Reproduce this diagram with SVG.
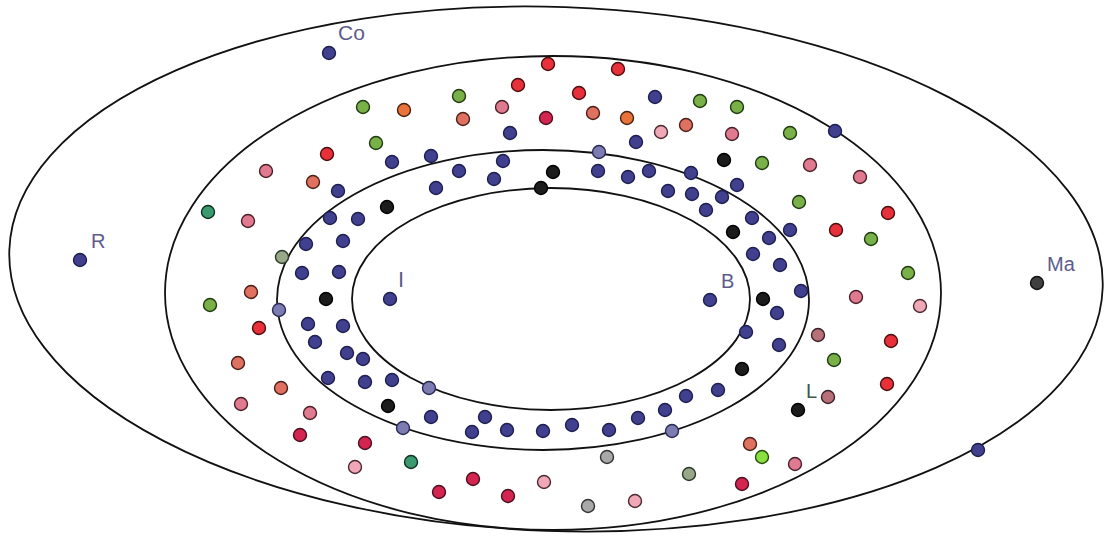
<svg xmlns="http://www.w3.org/2000/svg" width="1108" height="537" viewBox="0 0 1108 537">
<style>
.e{fill:none;stroke:#111;stroke-width:1.8}
circle{stroke-width:1.4;r:6.5px}
.b{fill:#40408f;stroke:#1e1e50}
.s{fill:#7c7cb2;stroke:#2a2a55}
.k{fill:#1c1c1c;stroke:#000}
.r{fill:#e8303a;stroke:#4a1010}
.c{fill:#d42450;stroke:#4a1020}
.p{fill:#e07a90;stroke:#4a2028}
.lp{fill:#f0a8b8;stroke:#4a2a30}
.sa{fill:#e07060;stroke:#4a2018}
.o{fill:#e8743c;stroke:#4a2010}
.g{fill:#7ab048;stroke:#1e3a10}
.t{fill:#3a9a70;stroke:#103020}
.sg{fill:#98a888;stroke:#2a3a2a}
.gy{fill:#a8a8a8;stroke:#333}
.lm{fill:#88e040;stroke:#2a4a10}
.m{fill:#b87078;stroke:#3a2028}
.dk{fill:#404040;stroke:#111}
text{font-family:"Liberation Sans",Arial,sans-serif;font-size:20px;fill:#5c5c8c}
</style>
<rect width="1108" height="537" fill="#fff"/>
<g id="rings">
<ellipse class="e" cx="556" cy="269" rx="547" ry="262" transform="rotate(2 556 269)"/>
<ellipse class="e" cx="553" cy="293" rx="388" ry="237"/>
<ellipse class="e" cx="543" cy="300" rx="266" ry="150"/>
<ellipse class="e" cx="551" cy="299" rx="199" ry="111"/>
</g>
<g id="labels">
<text x="338" y="40" style="font-size:21px">Co</text>
<text x="91" y="248">R</text>
<text x="398" y="287" style="font-size:22px">I</text>
<text x="721" y="288">B</text>
<text x="1047" y="271">Ma</text>
<text x="806" y="398" style="fill:#3a5a4a">L</text>
</g>
<g id="dots">
<circle class="b" cx="329" cy="53" r="6"/>
<circle class="g" cx="363" cy="107" r="6"/>
<circle class="g" cx="376" cy="143" r="6"/>
<circle class="r" cx="327" cy="154" r="6"/>
<circle class="p" cx="266" cy="171" r="6"/>
<circle class="sa" cx="313" cy="182" r="6"/>
<circle class="b" cx="338" cy="191" r="6"/>
<circle class="t" cx="208" cy="212" r="6"/>
<circle class="p" cx="248" cy="221" r="6"/>
<circle class="b" cx="330" cy="218" r="6"/>
<circle class="b" cx="358" cy="219" r="6"/>
<circle class="b" cx="306" cy="244" r="6"/>
<circle class="b" cx="343" cy="241" r="6"/>
<circle class="sg" cx="282" cy="257" r="6"/>
<circle class="b" cx="80" cy="260" r="6"/>
<circle class="r" cx="548" cy="64" r="6"/>
<circle class="r" cx="618" cy="69" r="6"/>
<circle class="r" cx="518" cy="85" r="6"/>
<circle class="g" cx="459" cy="96" r="6"/>
<circle class="r" cx="579" cy="93" r="6"/>
<circle class="b" cx="655" cy="97" r="6"/>
<circle class="g" cx="700" cy="101" r="6"/>
<circle class="g" cx="737" cy="107" r="6"/>
<circle class="o" cx="404" cy="110" r="6"/>
<circle class="p" cx="502" cy="107" r="6"/>
<circle class="sa" cx="463" cy="119" r="6"/>
<circle class="c" cx="546" cy="118" r="6"/>
<circle class="sa" cx="593" cy="113" r="6"/>
<circle class="o" cx="627" cy="118" r="6"/>
<circle class="sa" cx="686" cy="125" r="6"/>
<circle class="lp" cx="661" cy="132" r="6"/>
<circle class="p" cx="732" cy="134" r="6"/>
<circle class="b" cx="510" cy="133" r="6"/>
<circle class="b" cx="636" cy="142" r="6"/>
<circle class="b" cx="392" cy="162" r="6"/>
<circle class="b" cx="431" cy="156" r="6"/>
<circle class="b" cx="503" cy="161" r="6"/>
<circle class="s" cx="599" cy="152" r="6"/>
<circle class="k" cx="724" cy="160" r="6"/>
<circle class="b" cx="459" cy="171" r="6"/>
<circle class="k" cx="553" cy="172" r="6"/>
<circle class="b" cx="598" cy="171" r="6"/>
<circle class="b" cx="628" cy="177" r="6"/>
<circle class="b" cx="649" cy="171" r="6"/>
<circle class="b" cx="691" cy="173" r="6"/>
<circle class="b" cx="737" cy="185" r="6"/>
<circle class="b" cx="436" cy="188" r="6"/>
<circle class="b" cx="494" cy="179" r="6"/>
<circle class="k" cx="541" cy="188" r="6"/>
<circle class="b" cx="668" cy="191" r="6"/>
<circle class="b" cx="692" cy="194" r="6"/>
<circle class="b" cx="722" cy="197" r="6"/>
<circle class="b" cx="706" cy="210" r="6"/>
<circle class="k" cx="387" cy="207" r="6"/>
<circle class="k" cx="733" cy="232" r="6"/>
<circle class="g" cx="790" cy="133" r="6"/>
<circle class="b" cx="835" cy="131" r="6"/>
<circle class="g" cx="762" cy="163" r="6"/>
<circle class="p" cx="810" cy="165" r="6"/>
<circle class="p" cx="860" cy="177" r="6"/>
<circle class="g" cx="799" cy="202" r="6"/>
<circle class="b" cx="752" cy="218" r="6"/>
<circle class="b" cx="790" cy="230" r="6"/>
<circle class="b" cx="769" cy="238" r="6"/>
<circle class="r" cx="836" cy="230" r="6"/>
<circle class="r" cx="888" cy="213" r="6"/>
<circle class="g" cx="871" cy="239" r="6"/>
<circle class="b" cx="753" cy="254" r="6"/>
<circle class="b" cx="780" cy="265" r="6"/>
<circle class="g" cx="908" cy="273" r="6"/>
<circle class="dk" cx="1037" cy="283" r="6"/>
<circle class="b" cx="801" cy="291" r="6"/>
<circle class="k" cx="763" cy="299" r="6"/>
<circle class="b" cx="777" cy="313" r="6"/>
<circle class="p" cx="856" cy="297" r="6"/>
<circle class="lp" cx="920" cy="306" r="6"/>
<circle class="b" cx="746" cy="332" r="6"/>
<circle class="b" cx="779" cy="345" r="6"/>
<circle class="m" cx="818" cy="335" r="6"/>
<circle class="r" cx="891" cy="341" r="6"/>
<circle class="g" cx="834" cy="360" r="6"/>
<circle class="k" cx="742" cy="369" r="6"/>
<circle class="r" cx="887" cy="384" r="6"/>
<circle class="m" cx="828" cy="397" r="6"/>
<circle class="k" cx="798" cy="410" r="6"/>
<circle class="sa" cx="750" cy="444" r="6"/>
<circle class="lm" cx="762" cy="457" r="6"/>
<circle class="p" cx="795" cy="464" r="6"/>
<circle class="c" cx="742" cy="484" r="6"/>
<circle class="b" cx="978" cy="450" r="6"/>
<circle class="b" cx="390" cy="299" r="6"/>
<circle class="b" cx="710" cy="300" r="6"/>
<circle class="b" cx="392" cy="380" r="6"/>
<circle class="s" cx="429" cy="388" r="6"/>
<circle class="b" cx="718" cy="390" r="6"/>
<circle class="b" cx="686" cy="396" r="6"/>
<circle class="b" cx="665" cy="410" r="6"/>
<circle class="b" cx="638" cy="418" r="6"/>
<circle class="k" cx="388" cy="406" r="6"/>
<circle class="b" cx="431" cy="417" r="6"/>
<circle class="b" cx="485" cy="417" r="6"/>
<circle class="s" cx="403" cy="428" r="6"/>
<circle class="b" cx="472" cy="432" r="6"/>
<circle class="b" cx="507" cy="430" r="6"/>
<circle class="b" cx="543" cy="431" r="6"/>
<circle class="b" cx="572" cy="425" r="6"/>
<circle class="b" cx="609" cy="430" r="6"/>
<circle class="s" cx="672" cy="431" r="6"/>
<circle class="t" cx="411" cy="462" r="6"/>
<circle class="gy" cx="607" cy="457" r="6"/>
<circle class="sg" cx="689" cy="474" r="6"/>
<circle class="c" cx="473" cy="479" r="6"/>
<circle class="lp" cx="544" cy="482" r="6"/>
<circle class="c" cx="439" cy="492" r="6"/>
<circle class="c" cx="508" cy="496" r="6"/>
<circle class="gy" cx="588" cy="506" r="6"/>
<circle class="lp" cx="635" cy="501" r="6"/>
<circle class="b" cx="302" cy="273" r="6"/>
<circle class="b" cx="339" cy="272" r="6"/>
<circle class="sa" cx="251" cy="292" r="6"/>
<circle class="g" cx="210" cy="305" r="6"/>
<circle class="k" cx="326" cy="299" r="6"/>
<circle class="s" cx="279" cy="310" r="6"/>
<circle class="r" cx="259" cy="328" r="6"/>
<circle class="b" cx="308" cy="324" r="6"/>
<circle class="b" cx="343" cy="326" r="6"/>
<circle class="b" cx="315" cy="342" r="6"/>
<circle class="b" cx="347" cy="353" r="6"/>
<circle class="b" cx="363" cy="359" r="6"/>
<circle class="sa" cx="238" cy="363" r="6"/>
<circle class="b" cx="328" cy="378" r="6"/>
<circle class="b" cx="365" cy="382" r="6"/>
<circle class="sa" cx="281" cy="388" r="6"/>
<circle class="p" cx="241" cy="404" r="6"/>
<circle class="p" cx="310" cy="413" r="6"/>
<circle class="c" cx="300" cy="435" r="6"/>
<circle class="c" cx="365" cy="443" r="6"/>
<circle class="lp" cx="355" cy="467" r="6"/>
</g>
</svg>
